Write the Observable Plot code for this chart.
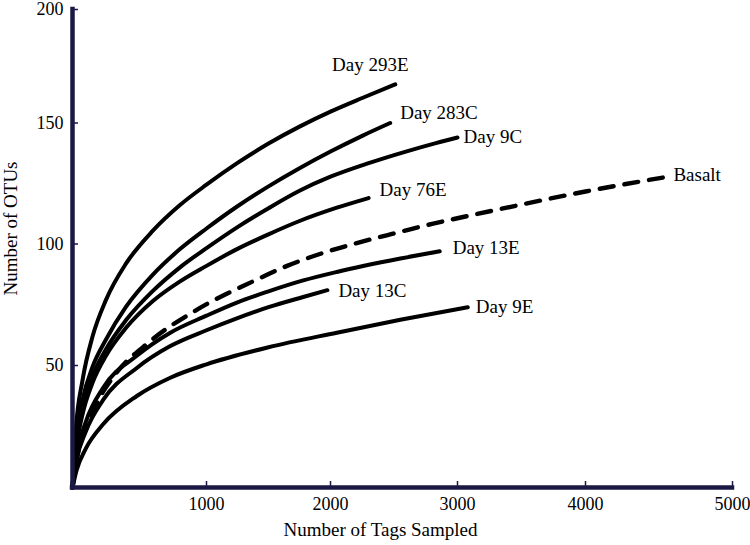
<!DOCTYPE html>
<html><head><meta charset="utf-8">
<script src="https://cdn.jsdelivr.net/npm/d3@7"></script>
<script src="https://cdn.jsdelivr.net/npm/@observablehq/plot@0.6"></script>
<style>body{margin:0;background:#fff}</style>
</head><body><div id="chart"></div>
<script>
// tick labels
const xTicks = [1000, 2000, 3000, 4000, 5000];
const yTicks = [50, 100, 150, 200];

// series (x = tags sampled, y = OTUs)
const seriesNames = ["Day 293E", "Day 283C", "Day 9C", "Day 76E", "Basalt", "Day 13E", "Day 13C", "Day 9E"];

const x293E = [0, 25, 75, 150, 250, 400, 600, 800, 1000, 1250, 1500, 1750, 2000, 2250, 2510];
const y293E = [0, 24, 44, 62, 77, 92, 105.5, 116, 124.5, 133.5, 141.5, 148.5, 155, 161, 167];

const x283C = [0, 25, 75, 150, 250, 400, 600, 800, 1000, 1250, 1500, 1750, 2000, 2250, 2470];
const y283C = [0, 20, 36, 49.5, 60.7, 74.2, 87.4, 97.8, 106.4, 115.6, 123.8, 131.3, 138.2, 144.7, 150];

const x9C = [0, 25, 75, 150, 250, 400, 600, 800, 1000, 1250, 1500, 1750, 2000, 2300, 2600, 2830, 3000];
const y9C = [0, 18, 33, 45.7, 56.7, 68.7, 80.7, 90.3, 98.3, 107, 114.8, 122, 127.8, 133.4, 138.3, 141.7, 144];

const x76E = [0, 25, 75, 150, 250, 400, 600, 800, 1000, 1250, 1500, 1750, 2050, 2300];
const y76E = [0, 15, 30, 43, 54, 65.5, 76.5, 84.5, 91, 98, 104, 109.5, 115, 119];

const xBasalt = [0, 40, 100, 190, 300, 580, 930, 1370, 1650, 1920, 2180, 2450, 2800, 3100, 3500, 4000, 4530];
const yBasalt = [0, 14, 24, 35.5, 45, 60, 73, 84.5, 91, 96, 100, 103.7, 108.3, 111.8, 116.3, 121.7, 127.5];

const x13E = [0, 30, 100, 230, 480, 730, 1000, 1250, 1500, 1780, 2050, 2550, 2860];
const y13E = [0, 13, 27, 41, 54, 63.5, 70.5, 76, 80.5, 85, 88.5, 94, 97];

const x13C = [0, 30, 100, 230, 480, 730, 1000, 1250, 1500, 1780, 1975];
const y13C = [0, 11, 23, 36, 49, 58, 64.5, 69.5, 74, 78.2, 81];

const x9E = [0, 30, 100, 230, 480, 730, 1000, 1500, 2050, 2550, 3080];
const y9E = [0, 7, 16, 26, 37.5, 45, 50.5, 57.5, 63.5, 68.8, 74];

const xs = [x293E, x283C, x9C, x76E, xBasalt, x13E, x13C, x9E];
const ys = [y293E, y283C, y9C, y76E, yBasalt, y13E, y13C, y9E];

// build the table the library needs
const rows = [];
seriesNames.forEach((name, i) => xs[i].forEach((x, j) => rows.push({series: name, x, y: ys[i][j]})));
const ends = seriesNames.map((name, i) => ({series: name, x: xs[i][xs[i].length - 1], y: ys[i][ys[i].length - 1]}));

// label placement (style)
const labelStyle = {
  "Day 293E": {dx: -25, dy: -20, anchor: "middle"},
  "Day 283C": {dx: 10, dy: -10, anchor: "start"},
  "Day 9C":   {dx: 6,  dy: -1,  anchor: "start"},
  "Day 76E":  {dx: 11, dy: -8,  anchor: "start"},
  "Basalt":   {dx: 10, dy: -3,  anchor: "start"},
  "Day 13E":  {dx: 13, dy: -3,  anchor: "start"},
  "Day 13C":  {dx: 11, dy: 1,   anchor: "start"},
  "Day 9E":   {dx: 8,  dy: 0,   anchor: "start"}
};

// the original axes are slightly uneven: piecewise warp applied before the linear scale
const xWarp = d3.scaleLinear().domain([0, 1000, 2000, 3000, 4000, 5000]).range([0, 134, 258, 385, 513, 660]);
const yWarp = d3.scaleLinear().domain([0, 50, 100, 150, 200]).range([0, 122, 243.5, 364.5, 478]);

const navy = "#1b1944";
const serif = "'Liberation Serif', 'Times New Roman', Times, serif";

const chart = Plot.plot({
  width: 750,
  height: 545,
  marginLeft: 72,
  marginRight: 18,
  marginTop: 9,
  marginBottom: 58,
  style: {fontFamily: serif, fontSize: "18px", color: "#000", background: "#fff"},
  x: {transform: xWarp, nice: false, zero: false},
  y: {transform: yWarp, nice: false, zero: false},
  marks: [
    Plot.line(rows.filter(d => d.series !== "Basalt"), {x: "x", y: "y", z: "series", stroke: "#000", strokeWidth: 4, curve: "monotone-x"}),
    Plot.line(rows.filter(d => d.series === "Basalt"), {x: "x", y: "y", stroke: "#000", strokeWidth: 4.4, strokeDasharray: "14,11", curve: "monotone-x"}),
    ...ends.map(e => Plot.text([e], {x: "x", y: "y", text: "series", dx: labelStyle[e.series].dx, dy: labelStyle[e.series].dy, textAnchor: labelStyle[e.series].anchor, fontSize: 19, fill: "#000"})),
    Plot.axisX(xTicks, {tickSize: -6, tickPadding: 16, fontSize: 18, stroke: navy, strokeWidth: 1.5, label: null, fill: "#000", tickFormat: d3.format("d")}),
    Plot.axisY(yTicks, {tickSize: -6, tickPadding: 15, fontSize: 18, stroke: navy, strokeWidth: 1.5, label: null, fill: "#000", tickFormat: d3.format("d")}),
    Plot.ruleX([0], {y1: 0, y2: 200, stroke: navy, strokeWidth: 4.5, strokeLinecap: "square"}),
    Plot.ruleY([0], {x1: 0, x2: 5000, stroke: navy, strokeWidth: 4.5, strokeLinecap: "square"}),
    Plot.text(["Number of Tags Sampled"], {text: d => d, frameAnchor: "bottom", textAnchor: "middle", dx: -22, dy: 48, fontSize: 19, fill: "#000"}),
    Plot.text(["Number of OTUs"], {text: d => d, frameAnchor: "left", textAnchor: "middle", rotate: -90, dx: -62, dy: -20, fontSize: 19, fill: "#000"})
  ]
});
document.getElementById("chart").appendChild(chart);
</script>
</body></html>
